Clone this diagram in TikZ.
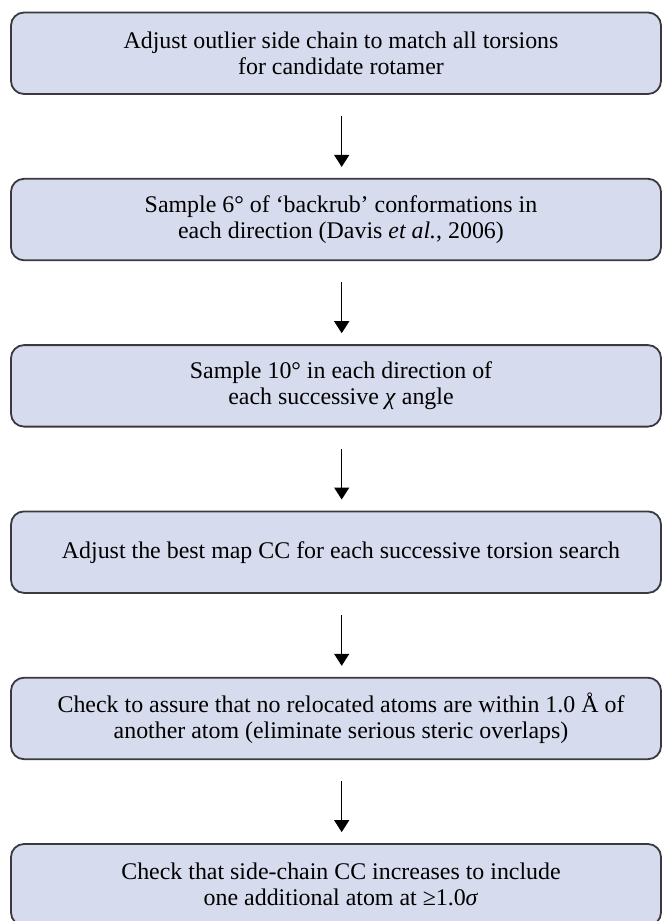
\documentclass[tikz,border=0pt]{standalone}
\usepackage{fontspec}
\setmainfont{Liberation Serif}
\usetikzlibrary{arrows.meta}
\definecolor{boxfill}{RGB}{214,219,237}
\definecolor{boxline}{RGB}{58,58,62}
\tikzset{
  stepbox/.style={draw=boxline, fill=boxfill, line width=1.8pt, rounded corners=13pt,
    minimum width=650pt, minimum height=81.5pt, inner sep=0pt},
  txt/.style={align=center, font=\fontsize{23.9}{26}\selectfont, inner sep=0pt, text=black},
  arr/.style={line width=1.4pt, -{Triangle[width=15pt,length=12pt]}, shorten <=21pt, shorten >=11pt}
}
\begin{document}
\begin{tikzpicture}[x=1pt, y=-1pt]
\useasboundingbox (0,0) rectangle (662,921);
\clip (0,0) rectangle (662,921);
\fill[white] (0,0) rectangle (662,921);
\node[stepbox] (b1) at (336,53.25) {};
\node[stepbox] (b2) at (336,219.55) {};
\node[stepbox] (b3) at (336,385.85) {};
\node[stepbox] (b4) at (336,552.15) {};
\node[stepbox] (b5) at (336,718.45) {};
\node[stepbox] (b6) at (336,884.75) {};
\node[txt] (t1) at (341,53.25) {Adjust outlier side chain to match all torsions\\for candidate rotamer};
\node[txt] (t2) at (341,219.55) {Sample 6° of ‘backrub’ conformations in\\each direction (Davis \textit{et al.}, 2006)};
\node[txt] (t3) at (341,385.85) {Sample 10° in each direction of\\each successive \textit{χ} angle};
\node[txt] (t4) at (341,552.15) {Adjust the best map CC for each successive torsion search};
\node[txt] (t5) at (341,718.45) {Check to assure that no relocated atoms are within 1.0 Å of\\another atom (eliminate serious steric overlaps)};
\node[txt] (t6) at (341,884.75) {Check that side-chain CC increases to include\\one additional atom at ≥1.0\textit{σ}};
\draw[arr] ([xshift=5.7pt]b1.south) -- ([xshift=5.7pt]b2.north);
\draw[arr] ([xshift=5.7pt]b2.south) -- ([xshift=5.7pt]b3.north);
\draw[arr] ([xshift=5.7pt]b3.south) -- ([xshift=5.7pt]b4.north);
\draw[arr] ([xshift=5.7pt]b4.south) -- ([xshift=5.7pt]b5.north);
\draw[arr] ([xshift=5.7pt]b5.south) -- ([xshift=5.7pt]b6.north);
\end{tikzpicture}
\end{document}
